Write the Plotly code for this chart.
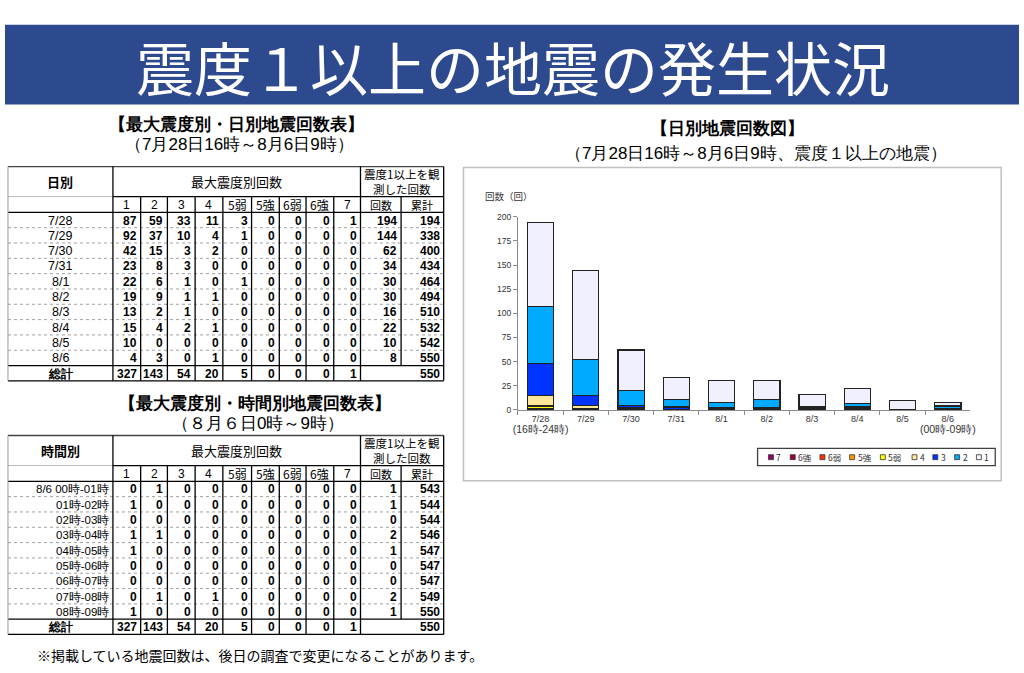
import plotly.graph_objects as go

W, H = 1024, 673

# ---------------- data ----------------
dates = ["7/28", "7/29", "7/30", "7/31", "8/1", "8/2", "8/3", "8/4", "8/5", "8/6"]
date_ticks = ["7/28<br><span style='font-size:10.5px'>(16時-24時)</span>", "7/29", "7/30", "7/31", "8/1",
              "8/2", "8/3", "8/4", "8/5", "8/6<br><span style='font-size:10.5px'>(00時-09時)</span>"]
intensity_labels = ["1", "2", "3", "4", "5弱", "5強", "6弱", "6強", "7"]

daily_i1 = [87, 92, 42, 23, 22, 19, 13, 15, 10, 4]
daily_i2 = [59, 37, 15, 8, 6, 9, 2, 4, 0, 3]
daily_i3 = [33, 10, 3, 3, 1, 1, 1, 2, 0, 0]
daily_i4 = [11, 4, 2, 0, 0, 1, 0, 1, 0, 1]
daily_i5l = [3, 1, 0, 0, 1, 0, 0, 0, 0, 0]
daily_i5u = [0, 0, 0, 0, 0, 0, 0, 0, 0, 0]
daily_i6l = [0, 0, 0, 0, 0, 0, 0, 0, 0, 0]
daily_i6u = [0, 0, 0, 0, 0, 0, 0, 0, 0, 0]
daily_i7 = [1, 0, 0, 0, 0, 0, 0, 0, 0, 0]
daily_count = [194, 144, 62, 34, 30, 30, 16, 22, 10, 8]
daily_cumulative = [194, 338, 400, 434, 464, 494, 510, 532, 542, 550]

total_by_intensity = [327, 143, 54, 20, 5, 0, 0, 0, 1]
total_count = 550

hours = ["8/6 00時-01時", "01時-02時", "02時-03時", "03時-04時", "04時-05時",
         "05時-06時", "06時-07時", "07時-08時", "08時-09時"]
hourly_i1 = [0, 1, 0, 1, 1, 0, 0, 0, 1]
hourly_i2 = [1, 0, 0, 1, 0, 0, 0, 1, 0]
hourly_i3 = [0, 0, 0, 0, 0, 0, 0, 0, 0]
hourly_i4 = [0, 0, 0, 0, 0, 0, 0, 1, 0]
hourly_i5l = [0, 0, 0, 0, 0, 0, 0, 0, 0]
hourly_i5u = [0, 0, 0, 0, 0, 0, 0, 0, 0]
hourly_i6l = [0, 0, 0, 0, 0, 0, 0, 0, 0]
hourly_i6u = [0, 0, 0, 0, 0, 0, 0, 0, 0]
hourly_i7 = [0, 0, 0, 0, 0, 0, 0, 0, 0]
hourly_count = [1, 1, 0, 2, 1, 0, 0, 2, 1]
hourly_cumulative = [543, 544, 544, 546, 547, 547, 547, 549, 550]

# bar stacking order (bottom -> top) and colours
stack_names = ["7", "6強", "6弱", "5強", "5弱", "4", "3", "2", "1"]
stack_values = [daily_i7, daily_i6u, daily_i6l, daily_i5u, daily_i5l, daily_i4, daily_i3, daily_i2, daily_i1]
stack_colors = ["#990066", "#990033", "#FF3300", "#FF9900", "#FFFF00", "#FFE699", "#0033FF", "#00AAFF", "#F0F0FF"]

# ---------------- helpers ----------------
JP = "Noto Sans CJK JP"
NUM = "Liberation Sans"
shapes = []
annotations = []


def px(x):
    return x / W


def py(y):
    return 1 - y / H


def line(x0, y0, x1, y1, color="#000000", width=1.3, dash="solid"):
    shapes.append(dict(type="line", xref="paper", yref="paper",
                       x0=px(x0), y0=py(y0), x1=px(x1), y1=py(y1),
                       line=dict(color=color, width=width, dash=dash), layer="above"))


def rect(x0, y0, x1, y1, fill=None, color=None, width=0, layer="below"):
    shapes.append(dict(type="rect", xref="paper", yref="paper",
                       x0=px(x0), y0=py(y0), x1=px(x1), y1=py(y1),
                       fillcolor=fill if fill else "rgba(0,0,0,0)",
                       line=dict(color=color if color else "rgba(0,0,0,0)", width=width),
                       layer=layer))


def text(x, y, s, size=12, xanchor="center", color="#000000", family=JP, bold=False):
    if bold:
        s = "<b>" + s + "</b>"
    annotations.append(dict(x=px(x), y=py(y), xref="paper", yref="paper", text=s,
                            showarrow=False, xanchor=xanchor, yanchor="middle",
                            font=dict(size=size, color=color, family=family)))


# ---------------- banner & titles ----------------
rect(0, 20, W, 101, fill="#2E4A8E", layer="below")
text(513, 62, "震度１以上の地震の発生状況", size=58, color="#FFFFFF")

text(234, 121, "【最大震度別・日別地震回数表】", size=17, bold=True, family=NUM)
text(237, 142, "（7月28日16時～8月6日9時）", size=17, family=NUM)
text(730, 125.5, "【日別地震回数図】", size=17, bold=True, family=NUM)
text(758, 150.5, "（7月28日16時～8月6日9時、震度１以上の地震）", size=17, family=NUM)
text(252, 405, "【最大震度別・時間別地震回数表】", size=17, bold=True, family=NUM)
text(255, 425, "（８月６日0時～9時）", size=17, family=NUM)
text(30, 660, "※掲載している地震回数は、後日の調査で変更になることがあります。", size=14, xanchor="left")

# ---------------- tables ----------------
col_x = [3, 109, 137, 164, 192, 220, 249, 277, 304, 332, 359, 400, 443]


def draw_table(top, head_label, row_labels, label_align, columns, counts, cumul):
    n = len(row_labels)
    h1 = top + 30.5
    h2 = h1 + 16
    rh = 15.55
    data_bottom = h2 + rh * n
    bottom = data_bottom + 15.5
    # horizontal lines
    line(col_x[0], top, col_x[-1], top, color="#444444", width=1.3)
    line(col_x[0], h1, col_x[1], h1, color="#BBBBBB", width=1)
    line(col_x[1], h1, col_x[-1], h1, width=1.3)
    line(col_x[0], h2, col_x[-1], h2, width=1.3)
    for i in range(1, n):
        yy = h2 + rh * i
        line(col_x[0], yy, col_x[-1], yy, color="#888888", width=0.8, dash="dot")
    line(col_x[0], data_bottom, col_x[-1], data_bottom, width=1.3)
    line(col_x[0], bottom, col_x[-1], bottom, width=1.3)
    # vertical lines
    line(col_x[0], top, col_x[0], bottom, color="#999999", width=1)
    line(col_x[1], top, col_x[1], bottom, width=1.3)
    for cx in col_x[2:10]:
        line(cx, h1, cx, bottom, width=1.3)
    line(col_x[10], top, col_x[10], bottom, width=1.3)
    line(col_x[11], h1, col_x[11], data_bottom, width=1.3)
    line(col_x[12], top, col_x[12], bottom, width=1.3)
    # header text
    text((col_x[0] + col_x[1]) / 2, (top + h1) / 2, head_label, size=13, bold=True)
    text((col_x[1] + col_x[10]) / 2, (top + h1) / 2, "最大震度別回数", size=13)
    text((col_x[10] + col_x[12]) / 2, top + 15, "震度1以上を観<br>測した回数", size=11.5)
    sub_heads = intensity_labels + ["回数", "累計"]
    for j, lab in enumerate(sub_heads):
        sz = 11 if j >= 9 else 12
        fam = NUM if lab.isdigit() else JP
        text((col_x[j + 1] + col_x[j + 2]) / 2, (h1 + h2) / 2 + 0.5, lab, size=sz, family=fam)
    # data rows
    for i in range(n):
        yc = h2 + rh * i + rh / 2 + 0.5
        if label_align == "center":
            text((col_x[0] + col_x[1]) / 2, yc, row_labels[i], size=12.5, family=NUM)
        else:
            text(col_x[1] - 2, yc, row_labels[i], size=11.5, xanchor="right", family=NUM)
        for j, col in enumerate(columns):
            text(col_x[j + 2] - 2, yc, str(col[i]), size=12, xanchor="right", family=NUM, bold=True)
        text(col_x[11] - 2, yc, str(counts[i]), size=12, xanchor="right", family=NUM, bold=True)
        text(col_x[12] - 2, yc, str(cumul[i]), size=12, xanchor="right", family=NUM, bold=True)
    # total row
    yc = data_bottom + 15.5 / 2 + 0.5
    text((col_x[0] + col_x[1]) / 2, yc, "総計", size=12, bold=True, family=NUM)
    for j, v in enumerate(total_by_intensity):
        text(col_x[j + 2] - 2, yc, str(v), size=12, xanchor="right", family=NUM, bold=True)
    text(col_x[12] - 2, yc, str(total_count), size=12, xanchor="right", family=NUM, bold=True)


draw_table(164, "日別", dates, "center",
           [daily_i1, daily_i2, daily_i3, daily_i4, daily_i5l, daily_i5u, daily_i6l, daily_i6u, daily_i7],
           daily_count, daily_cumulative)
draw_table(437, "時間別", hours, "right",
           [hourly_i1, hourly_i2, hourly_i3, hourly_i4, hourly_i5l, hourly_i5u, hourly_i6l, hourly_i6u, hourly_i7],
           hourly_count, hourly_cumulative)

# ---------------- chart frame, axis title, legend ----------------
rect(463, 165, 1006, 483, color="#C0C0C0", width=1.5, layer="below")
text(483, 194, "回数（回）", size=9.5, xanchor="left", color="#333333")

rect(760, 450, 1000, 467.5, fill="#FFFFFF", color="#404040", width=1.3, layer="above")
legend_x = [771, 793, 823, 853, 884, 916, 937, 959, 981]
for name, col, lx in zip(stack_names, stack_colors, legend_x):
    rect(lx, 456.5, lx + 5, 461.5, fill=col, color="#333333", width=0.8, layer="above")
    text(lx + 6, 459, name, size=8.5, xanchor="left", color="#333333")

# ---------------- bar chart ----------------
fig = go.Figure()
for name, vals, col in zip(stack_names, stack_values, stack_colors):
    fig.add_trace(go.Bar(x=dates, y=vals, name=name,
                         marker=dict(color=col, line=dict(color="#222222", width=1.1)),
                         hoverinfo="x+y+name"))

fig.update_layout(
    autosize=True,
    margin=dict(l=0, r=0, t=0, b=0, pad=0),
    paper_bgcolor="#FFFFFF", plot_bgcolor="rgba(0,0,0,0)",
    barmode="stack", bargap=0.42,
    showlegend=False,
    shapes=shapes, annotations=annotations,
    font=dict(family=JP),
    xaxis=dict(domain=[518 / W, 975 / W], type="category", categoryorder="array", categoryarray=dates,
               tickvals=dates, ticktext=date_ticks, tickson="boundaries", tickangle=0,
               showline=True, linecolor="#8C8C8C", linewidth=1, ticks="outside", ticklen=4,
               tickcolor="#8C8C8C", showgrid=False, zeroline=False,
               tickfont=dict(size=9, color="#333333", family=NUM)),
    yaxis=dict(domain=[1 - 411 / H, 1 - 215 / H], range=[0, 200], dtick=25, tick0=0,
               showline=True, linecolor="#8C8C8C", linewidth=1, ticks="outside", ticklen=4,
               tickcolor="#8C8C8C", showgrid=False, zeroline=False,
               tickfont=dict(size=8.5, color="#333333", family=NUM)),
)

fig.write_html("out.html",
               config={"displayModeBar": False},
               default_width="1024px;position:absolute;left:0;top:0",
               default_height="673px")
